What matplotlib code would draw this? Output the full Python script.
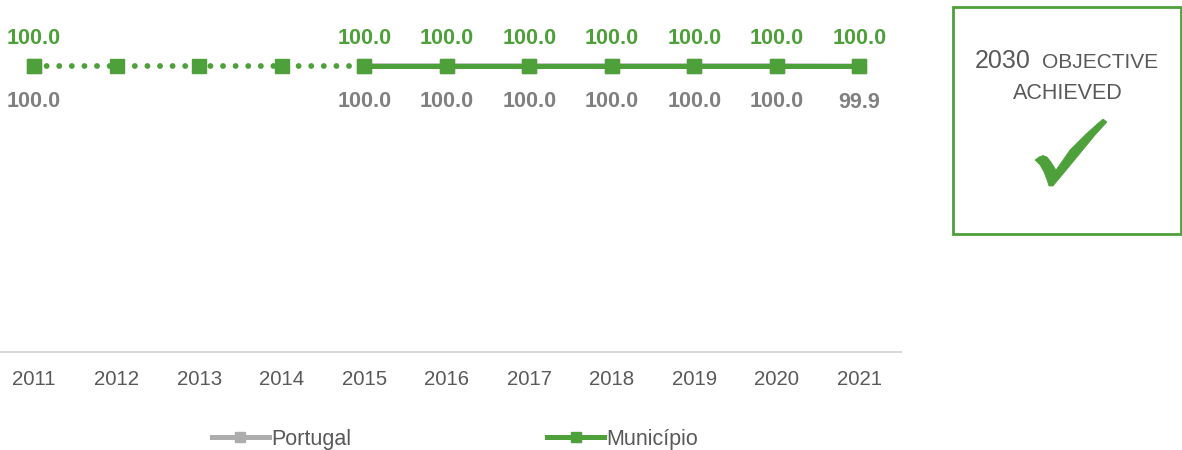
import matplotlib
matplotlib.use("Agg")
import matplotlib.pyplot as plt
from matplotlib.lines import Line2D
from matplotlib.patches import Rectangle, Polygon
import numpy as np

plt.rcParams['font.family'] = ['Liberation Sans', 'DejaVu Sans']

years = [2011, 2012, 2013, 2014, 2015, 2016, 2017, 2018, 2019, 2020, 2021]
portugal = [100.0, None, None, None, 100.0, 100.0, 100.0, 100.0, 100.0, 100.0, 99.9]
municipio = [100.0, 100.0, 100.0, 100.0, 100.0, 100.0, 100.0, 100.0, 100.0, 100.0, 100.0]
municipio_labeled = [True, False, False, False, True, True, True, True, True, True, True]

GREEN = '#4EA03A'
GREY_LINE = '#ADADAD'
GREY_TXT = '#808080'
TICK_TXT = '#595959'

W, H = 1182, 450
fig = plt.figure(figsize=(W / 100, H / 100), dpi=100)
ax = fig.add_axes([-7.25 / W, 98 / H, 908 / W, 332 / H])

pt = np.array([np.nan if v is None else v for v in portugal], dtype=float)
mu = np.array(municipio, dtype=float)
yr = np.array(years)

# Portugal (behind)
ax.plot(yr, pt, color=GREY_LINE, lw=3.6, marker='s', ms=9.5, zorder=2, clip_on=False)

# Municipio dotted part (2011-2015) and solid part (2015-2021)
split = years.index(2015)
ax.plot(yr[:split + 1], mu[:split + 1], color=GREEN, lw=4.2, linestyle=(0, (0.01, 2.15)),
        dash_capstyle='round', zorder=3, clip_on=False)
ax.plot(yr[split:], mu[split:], color=GREEN, lw=3.6, linestyle='-', zorder=3, clip_on=False)
ax.plot(yr, mu, linestyle='none', marker='s', ms=9.5, color=GREEN, zorder=4, clip_on=False)

for x, v, lab in zip(years, municipio, municipio_labeled):
    if lab:
        ax.annotate(f"{v:.1f}", (x, v), xytext=(0, 19.5), textcoords='offset points',
                    ha='center', va='center', color=GREEN, fontsize=15.5, fontweight='bold')
for x, v in zip(years, portugal):
    if v is not None:
        ax.annotate(f"{v:.1f}", (x, v), xytext=(0, -26), textcoords='offset points',
                    ha='center', va='center', color=GREY_TXT, fontsize=15.5, fontweight='bold')

ax.set_xlim(2010.5, 2021.5)
ax.set_ylim(0, 116)
ax.set_xticks(years)
ax.set_xticklabels([str(y) for y in years], fontsize=14.7, color=TICK_TXT)
ax.tick_params(axis='x', length=0, pad=13)
ax.set_yticks([])
for s in ['top', 'left', 'right']:
    ax.spines[s].set_visible(False)
ax.spines['bottom'].set_color('#D9D9D9')
ax.spines['bottom'].set_linewidth(1.5)
ax.patch.set_alpha(0)

# Legend
h1 = Line2D([], [], color=GREY_LINE, lw=3.6, marker='s', ms=7)
h2 = Line2D([], [], color=GREEN, lw=3.6, marker='s', ms=7)
fig.legend([h1, h2], ['Portugal', 'Município'], loc='center', bbox_to_anchor=(455 / W, 1 - 439 / H),
           ncol=2, frameon=False, fontsize=15.5, handlelength=2.65, handletextpad=0.1,
           columnspacing=9.1, labelcolor=TICK_TXT)

# Objective box
fig.patches.append(Rectangle((953 / W, 1 - 234 / H), 228 / W, 227 / H,
                             transform=fig.transFigure, fill=False, edgecolor=GREEN, lw=2))
fig.text(1031 / W, 1 - 68 / H, "2030", ha='right', va='baseline', fontsize=18, color=TICK_TXT)
fig.text(1042 / W, 1 - 68 / H, "OBJECTIVE", ha='left', va='baseline', fontsize=15, color=TICK_TXT)
fig.text(1068 / W, 1 - 99 / H, "ACHIEVED", ha='center', va='baseline', fontsize=15.5, color=TICK_TXT)

# Check mark (pixel coordinates within the box)
check_px = [(1035, 160), (1039, 157), (1043, 155.5), (1047, 157), (1051, 162), (1056, 170),
            (1070, 150), (1085, 135), (1096, 125), (1103, 119), (1107, 122), (1096, 134),
            (1082, 151), (1068, 168), (1058, 180), (1053, 186), (1049, 186), (1047, 180),
            (1044, 172), (1040, 165)]
fig.patches.append(Polygon([(x / W, 1 - y / H) for x, y in check_px], closed=True,
                           transform=fig.transFigure, facecolor=GREEN, edgecolor=GREEN, lw=0.5))

fig.savefig('out.png', dpi=100)
